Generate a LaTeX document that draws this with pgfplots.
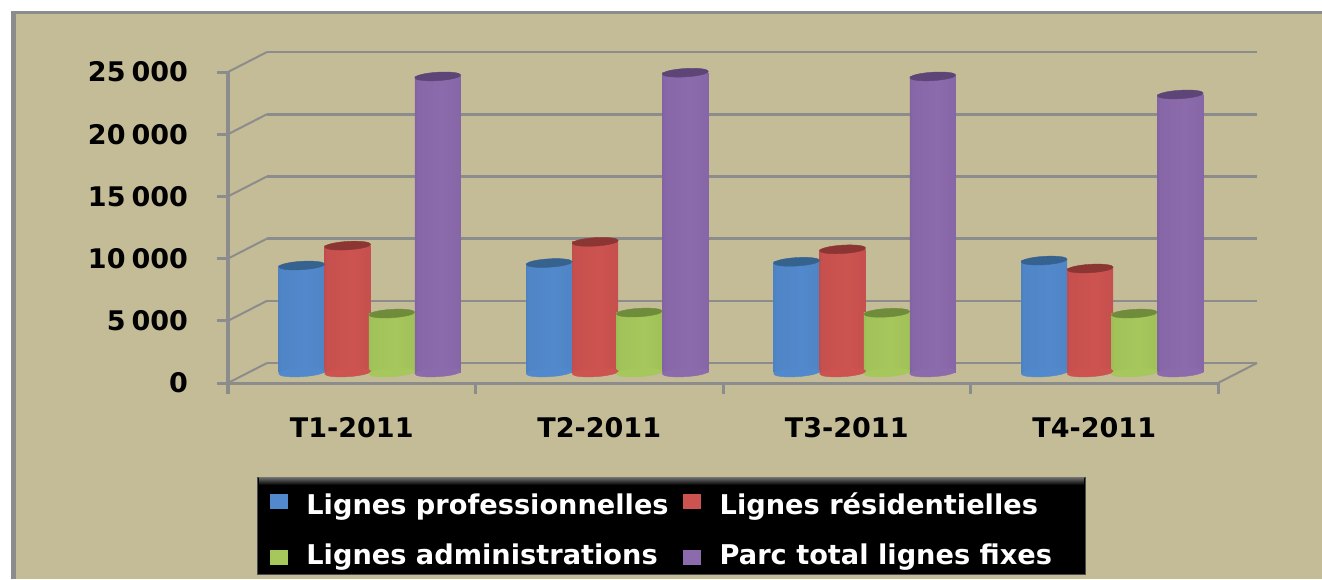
\documentclass[border=0pt]{standalone}
\usepackage{fontspec}
\setmainfont{DejaVu Sans}
\usepackage{pgfplots}
\pgfplotsset{compat=1.18}
\definecolor{fond}{HTML}{C4BC96}
\definecolor{axe}{HTML}{8C8C8C}
\definecolor{bmid}{HTML}{5289CC}\definecolor{btop}{HTML}{35628F}\definecolor{bsid}{HTML}{35608F}
\definecolor{rmid}{HTML}{CC5350}\definecolor{rtop}{HTML}{8C3634}\definecolor{rsid}{HTML}{8C3432}
\definecolor{gmid}{HTML}{A6C75C}\definecolor{gtop}{HTML}{6F8C3A}\definecolor{gsid}{HTML}{6F8C3A}
\definecolor{vmid}{HTML}{8C6BAC}\definecolor{vtop}{HTML}{5D4577}\definecolor{vsid}{HTML}{513A6E}
% cylinder body: dark edges, light centre
\newcommand{\cylshade}[1]{\pgfdeclarehorizontalshading{cyl#1}{100bp}{
  color(0bp)=(#1sid); color(10bp)=(#1sid!60!#1mid); color(28bp)=(#1mid!92!#1sid);
  color(55bp)=(#1mid); color(84bp)=(#1mid!85!#1sid); color(93bp)=(#1sid!75!#1mid); color(100bp)=(#1sid)}}
\cylshade{b}\cylshade{r}\cylshade{g}\cylshade{v}
\pgfdeclareplotmark{cyl}{%
  \pgfpathellipse{\pgfpointorigin}{\pgfqpoint{11.5pt}{0.7pt}}{\pgfqpoint{-0.1pt}{2.1pt}}%
  \pgfusepathqfillstroke}
% one cylinder: colour key, x, value
\newcommand{\cyl}[3]{%
  \addplot[only marks,mark=cyl,mark options={fill=#1mid,draw=#1mid,line width=0.2pt},forget plot]
    coordinates {(#2,0)};
  \addplot[ybar,bar width=23pt,bar shift=0pt,draw=none,shading=cyl#1,
    mark=cyl,mark options={fill=#1top,draw=#1top,line width=0.2pt},forget plot]
    coordinates {(#2,#3)};
}
\pgfplotsset{
  page/.style={scale only axis,width=495pt,height=155.5pt,anchor=south west,
    xmin=-0.5,xmax=3.5,ymin=0,ymax=25000,ytick={0,5000,...,25000},scaled y ticks=false},
  carre/.style={legend image code/.code={
    \fill[##1,overlay] (0pt,-9.8pt) rectangle (9.5pt,-1.8pt);
    \path[fill=none,draw=none] (0pt,0pt) -- (16.5pt,0pt);}},
}
\begin{document}
\begin{tikzpicture}
\path[use as bounding box] (0,0) rectangle (661pt,289.5pt);
\fill[fond] (5.5pt,0) rectangle (661pt,283.5pt);
\fill[axe] (5.5pt,0) rectangle (8pt,283.5pt);
\fill[axe] (5.5pt,282.5pt) rectangle (661pt,284pt);
% back wall
\begin{axis}[page,at={(133.5pt,108pt)},
  axis line style={draw=none},tick style={draw=none},
  xtick=\empty,yticklabels={},ymajorgrids,
  grid style={axe,line width=1.3pt}]
\addplot[draw=none,forget plot] coordinates {(0,0)};
\end{axis}
% front with the bars
\begin{axis}[page,at={(114pt,98pt)},clip=false,
  axis x line=bottom,axis y line=left,
  axis line style={-,axe,line width=1.5pt},
  tick style={axe,line width=1.5pt},
  tick align=outside,major tick length=5.5pt,
  ticklabel style={font=\bfseries\fontsize{13.5}{15}\selectfont,text=black},
  /pgf/number format/assume math mode=true,
  /pgf/number format/1000 sep={\hspace{3pt}},
  yticklabel style={xshift=-11pt},
  xtick={-0.5,0.5,1.5,2.5,3.5},
  x tick label as interval,
  xticklabels={T1-2011,T2-2011,T3-2011,T4-2011},
  xticklabel style={yshift=-8pt},
  every axis plot/.append style={xshift=9pt,yshift=5.25pt},
  legend columns=2,
  legend cell align=left,
  legend style={at={(14.5pt,-47pt)},anchor=north west,
    fill=black,draw=black!70,text=white,
    font=\bfseries\fontsize{13.6}{16}\selectfont,
    inner xsep=6pt,inner ysep=1.5pt,
    /tikz/every even column/.append style={column sep=5pt},
    row sep=9.5pt},
]
\addlegendimage{carre,fill=bmid}
\addlegendimage{carre,fill=rmid}
\addlegendimage{carre,fill=gmid}
\addlegendimage{carre,fill=vmid}
\legend{Lignes professionnelles\rule{0pt}{14.8pt},Lignes résidentielles\rule{0pt}{14.8pt},Lignes administrations,Parc total lignes fixes\rule{8.5pt}{0pt}}
\pgfplotsinvokeforeach{0,5000,10000,15000,20000,25000}{
  \draw[axe,line width=1pt] (axis cs:-0.5,#1) -- ++(19.5pt,10pt);
}
\draw[axe,line width=1pt] (axis cs:3.5,0) -- ++(19.5pt,10pt);
\cyl{b}{-0.275}{8600}\cyl{r}{-0.089}{10200}\cyl{g}{0.089}{4740}\cyl{v}{0.275}{23800}
\cyl{b}{0.725}{8800}\cyl{r}{0.911}{10500}\cyl{g}{1.089}{4820}\cyl{v}{1.275}{24100}
\cyl{b}{1.725}{8900}\cyl{r}{1.911}{9900}\cyl{g}{2.089}{4800}\cyl{v}{2.275}{23800}
\cyl{b}{2.725}{9000}\cyl{r}{2.911}{8360}\cyl{g}{3.089}{4740}\cyl{v}{3.275}{22350}
\end{axis}
% bevel along the top of the legend box
\shade[top color=black!55,bottom color=black] (129.5pt,51pt) rectangle (542pt,47pt);
\end{tikzpicture}
\end{document}
